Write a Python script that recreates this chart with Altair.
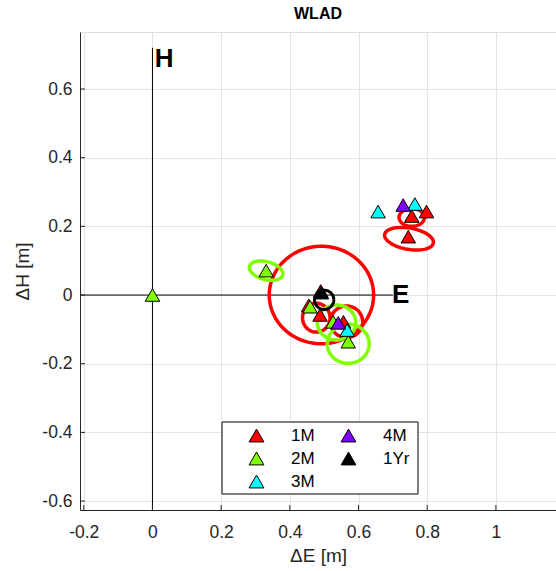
import math
import altair as alt
import pandas as pd

# ---------------- data ----------------
series_order = ["1M", "2M", "3M", "4M", "1Yr"]
series_colors = ["#FF0000", "#80FF00", "#00FFFF", "#8000FF", "#000000"]

pt_series = ["1M", "1M", "1M", "1M", "1M", "1M", "1M",
             "2M", "2M", "2M", "2M", "2M",
             "3M", "3M", "3M",
             "4M", "4M",
             "1Yr"]
pt_e = [0.745, 0.755, 0.798, 0.490, 0.455, 0.488, 0.556,
        0.000, 0.331, 0.459, 0.526, 0.570,
        0.657, 0.764, 0.567,
        0.730, 0.541,
        0.492]
pt_h = [0.170, 0.230, 0.243, 0.012, -0.030, -0.058, -0.078,
        0.000, 0.071, -0.034, -0.078, -0.136,
        0.243, 0.265, -0.102,
        0.262, -0.081,
        0.007]

# error ellipses: centre E, centre H, semi-axis E, semi-axis H, tilt (deg), colour
ell_cx = [0.492, 0.747, 0.755, 0.477, 0.565, 0.331, 0.536, 0.570]
ell_cy = [0.000, 0.164, 0.226, -0.066, -0.078, 0.071, -0.080, -0.142]
ell_rx = [0.152, 0.072, 0.037, 0.040, 0.047, 0.050, 0.056, 0.061]
ell_ry = [0.142, 0.031, 0.026, 0.042, 0.046, 0.026, 0.051, 0.057]
ell_ang = [0, -10, 0, 0, 0, -15, 0, 0]
ell_col = ["#FF0000", "#FF0000", "#FF0000", "#FF0000", "#FF0000",
           "#80FF00", "#80FF00", "#80FF00"]

ring_cx = [0.500]
ring_cy = [-0.014]
ring_r = [0.028]

x_ticks = [-0.2, 0, 0.2, 0.4, 0.6, 0.8, 1]
y_ticks = [-0.6, -0.4, -0.2, 0, 0.2, 0.4, 0.6]
x_dom = [-0.211, 1.175]
y_dom = [-0.626, 0.766]

# ---------------- tables ----------------
pts = pd.DataFrame({"series": pt_series, "E": pt_e, "H": pt_h})
pts["ord"] = pts["series"].map({s: i for i, s in enumerate(series_order)})


def outline(cx, cy, rx, ry, ang, n=90):
    a = math.radians(ang)
    rows = []
    for k in range(n + 1):
        t = 2 * math.pi * k / n
        ex, ey = rx * math.cos(t), ry * math.sin(t)
        rows.append((cx + ex * math.cos(a) - ey * math.sin(a),
                     cy + ex * math.sin(a) + ey * math.cos(a), k))
    return rows


ell_rows = []
for i in range(len(ell_cx)):
    for E, H, k in outline(ell_cx[i], ell_cy[i], ell_rx[i], ell_ry[i], ell_ang[i]):
        ell_rows.append({"id": i, "E": E, "H": H, "k": k, "col": ell_col[i]})
ell = pd.DataFrame(ell_rows)

ring_rows = []
for i in range(len(ring_cx)):
    for E, H, k in outline(ring_cx[i], ring_cy[i], ring_r[i], ring_r[i], 0):
        ring_rows.append({"id": i, "E": E, "H": H, "k": k})
ring = pd.DataFrame(ring_rows)

axes_lines = pd.DataFrame({"id": [0, 0, 1, 1],
                           "E": [0, 0, x_dom[0], 0.70],
                           "H": [y_dom[0], 0.72, 0, 0]})
labels = pd.DataFrame({"t": ["H", "E"], "E": [0.034, 0.723], "H": [0.687, 0.0]})

xs = alt.Scale(domain=x_dom, nice=False, zero=False)
ys = alt.Scale(domain=y_dom, nice=False, zero=False)
FONT = "Liberation Sans"

xax = alt.Axis(values=x_ticks, labelExpr="datum.value + ''", title="ΔE [m]",
               grid=True, gridColor="#e3e3e3", tickSize=0, domainColor="#262626",
               labelFontSize=17.5, labelColor="#262626", labelFont=FONT, labelPadding=13,
               titleFontSize=19, titleFont=FONT, titleColor="#262626",
               titleFontWeight="normal", titlePadding=6)
yax = alt.Axis(values=y_ticks, labelExpr="datum.value + ''", title="ΔH [m]",
               grid=True, gridColor="#e3e3e3", tickSize=0, domainColor="#262626",
               labelFontSize=17.5, labelColor="#262626", labelFont=FONT, labelPadding=8,
               titleFontSize=19, titleFont=FONT, titleColor="#262626",
               titleFontWeight="normal", titlePadding=9)

base_lines = alt.Chart(axes_lines).mark_line(color="black", strokeWidth=1).encode(
    x=alt.X("E:Q", scale=xs, axis=xax),
    y=alt.Y("H:Q", scale=ys, axis=yax),
    detail="id:N",
)

ell_layer = alt.Chart(ell).mark_line(strokeWidth=3.5).encode(
    x="E:Q", y="H:Q", detail="id:N", order="k:Q",
    stroke=alt.Stroke("col:N", scale=None),
)

tri = alt.Chart(pts).mark_point(shape="triangle-up", filled=True, size=210,
                                stroke="black", strokeWidth=1, opacity=1).encode(
    x="E:Q", y="H:Q",
    fill=alt.Fill("series:N",
                  scale=alt.Scale(domain=series_order, range=series_colors),
                  legend=alt.Legend(title=None, orient="none", legendX=168, legendY=395,
                                    columns=2, columnPadding=24, rowPadding=5,
                                    symbolType="triangle-up", symbolSize=220,
                                    symbolStrokeColor="black", symbolStrokeWidth=1,
                                    labelFontSize=17, labelFont=FONT, labelColor="black",
                                    labelOffset=26, padding=0)),
    order="ord:Q",
)

ring_layer = alt.Chart(ring).mark_line(color="black", strokeWidth=3).encode(
    x="E:Q", y="H:Q", detail="id:N", order="k:Q",
)

txt = alt.Chart(labels).mark_text(fontSize=26, fontWeight="bold", font=FONT,
                                  color="black", align="center", baseline="middle").encode(
    x="E:Q", y="H:Q", text="t:N",
)

xt = alt.Chart(pd.DataFrame({"v": x_ticks})).mark_rule(color="#262626").encode(
    x="v:Q", y=alt.value(478), y2=alt.value(473))
yt = alt.Chart(pd.DataFrame({"v": y_ticks})).mark_rule(color="#262626").encode(
    y="v:Q", x=alt.value(0), x2=alt.value(5))

box = alt.Chart(pd.DataFrame({"b": [0]})).mark_rect(
    fill="white", stroke="black", strokeWidth=1).encode(
    x=alt.value(142), x2=alt.value(338), y=alt.value(390), y2=alt.value(462))

chart = alt.layer(base_lines, ell_layer, tri, ring_layer, txt, xt, yt, box).properties(
    width=476, height=478,
    title=alt.TitleParams("WLAD", fontSize=16, fontWeight="bold", font=FONT,
                          color="black", offset=10),
    autosize=alt.AutoSizeParams(type="none"),
    padding={"left": 80, "top": 32, "right": 0, "bottom": 61},
).configure_view(stroke=None).configure(background="white")

chart.save("out.html", embed_options={"renderer": "svg", "actions": False})
